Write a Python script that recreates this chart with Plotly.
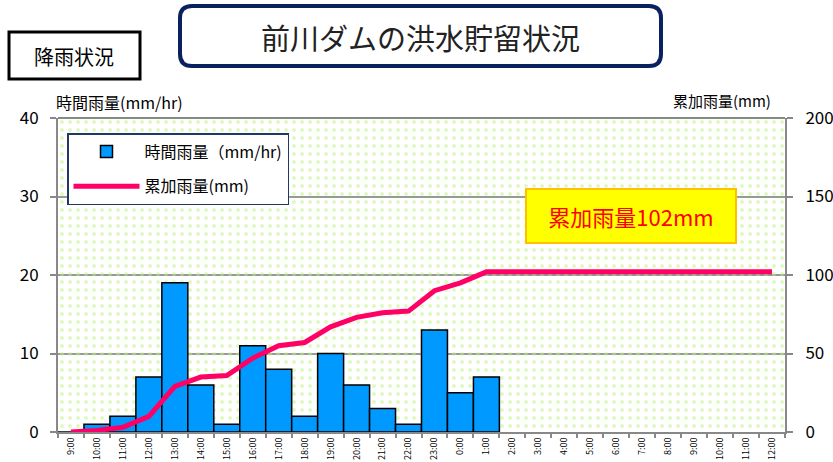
import plotly.graph_objects as go

# ---- data ----
hours = ["9:00", "10:00", "11:00", "12:00", "13:00", "14:00", "15:00", "16:00",
         "17:00", "18:00", "19:00", "20:00", "21:00", "22:00", "23:00", "0:00",
         "1:00", "2:00", "3:00", "4:00", "5:00", "6:00", "7:00", "8:00",
         "9:00", "10:00", "11:00", "12:00"]
hourly_rain = [0, 1, 2, 7, 19, 6, 1, 11, 8, 2, 10, 6, 3, 1, 13, 5, 7,
               0, 0, 0, 0, 0, 0, 0, 0, 0, 0, 0]
cumulative_rain = [0, 1, 3, 10, 29, 35, 36, 47, 55, 57, 67, 73, 76, 77, 90, 95, 102,
                   102, 102, 102, 102, 102, 102, 102, 102, 102, 102, 102]
left_ticks = [0, 10, 20, 30, 40]
right_ticks = [0, 50, 100, 150, 200]

FONT = "Noto Sans CJK JP"
Y_MAX = 40
Y2_MAX = 200
n = len(hours)
idx = list(range(n))
hourly_bars = hourly_rain[:17]

L, R, T, B = 58, 785, 118, 432
def px(x):
    return (x - L) / (R - L)
def py(y):
    return (B - y) / (B - T)

fig = go.Figure()

# dotted background (decorative)
fig.add_trace(go.Bar(
    x=[(n - 1) / 2], y=[Y_MAX], width=[n], base=[0],
    marker=dict(color="rgba(0,0,0,0)", line=dict(width=0),
                pattern=dict(shape=".", size=8, solidity=0.2,
                             fgcolor="#bff383", bgcolor="rgba(0,0,0,0)")),
    showlegend=False, hoverinfo="skip"))

fig.add_trace(go.Bar(
    x=idx[:len(hourly_bars)], y=hourly_bars, width=1,
    name="時間雨量（mm/hr)", legendgroup="a",
    marker=dict(color="#0099ff", line=dict(color="#000000", width=1.5))))

fig.add_trace(go.Scatter(
    x=idx, y=cumulative_rain, yaxis="y2", mode="lines",
    name="累加雨量(mm)", legendgroup="b",
    line=dict(color="#ff0066", width=5)))

fig.update_layout(
    width=833, height=462,
    margin=dict(l=L, r=833 - R, t=T, b=462 - B),
    paper_bgcolor="white", plot_bgcolor="white",
    barmode="overlay",
    font=dict(family=FONT, color="#000000"),
    xaxis=dict(range=[-0.5, n - 0.5], tickmode="array", tickvals=idx, ticktext=hours,
               tickangle=-90, tickfont=dict(size=9, family=FONT), ticks="",
               showline=True, linecolor="#888888", linewidth=2, showgrid=False,
               minor=dict(tickmode="linear", tick0=-0.5, dtick=1, ticks="outside",
                          ticklen=4, tickcolor="#888888", tickwidth=1.5),
               automargin=False, fixedrange=True),
    yaxis=dict(range=[0, Y_MAX], tickvals=left_ticks, tickfont=dict(size=17, family=FONT),
               showline=True, linecolor="#888888", linewidth=2,
               showgrid=True, gridcolor="#999999", gridwidth=1.5,
               ticks="outside", ticklen=6, tickcolor="#888888", tickwidth=1.5,
               ticklabelstandoff=8, zeroline=False, automargin=False, fixedrange=True),
    yaxis2=dict(range=[0, Y2_MAX], tickvals=right_ticks, overlaying="y", side="right",
                tickfont=dict(size=17, family=FONT),
                showline=True, linecolor="#888888", linewidth=2, showgrid=False,
                ticks="outside", ticklen=6, tickcolor="#888888", tickwidth=1.5,
                ticklabelstandoff=9, zeroline=False, automargin=False, fixedrange=True),
    legend=dict(x=px(67), y=py(133), xanchor="left", yanchor="top",
                bgcolor="white", bordercolor="#1f3864", borderwidth=1.5,
                font=dict(size=16, family=FONT), traceorder="grouped",
                itemwidth=66, tracegroupgap=11),
    showlegend=True,
)

shapes = [
    dict(type="line", xref="paper", yref="paper", x0=0, x1=1, y0=1, y1=1,
         line=dict(color="#888888", width=2)),
    # "降雨状況" box
    dict(type="rect", xref="paper", yref="paper",
         x0=px(9), x1=px(140), y0=py(79), y1=py(32),
         line=dict(color="#000000", width=3), fillcolor="white"),
]
fig.update_layout(shapes=shapes)

# rounded title box via path
x0, x1, y0, y1, r = 180, 661, 6, 66, 12
path = (f"M {px(x0 + r)},{py(y0)} L {px(x1 - r)},{py(y0)} "
        f"Q {px(x1)},{py(y0)} {px(x1)},{py(y0 + r)} L {px(x1)},{py(y1 - r)} "
        f"Q {px(x1)},{py(y1)} {px(x1 - r)},{py(y1)} L {px(x0 + r)},{py(y1)} "
        f"Q {px(x0)},{py(y1)} {px(x0)},{py(y1 - r)} L {px(x0)},{py(y0 + r)} "
        f"Q {px(x0)},{py(y0)} {px(x0 + r)},{py(y0)} Z")
fig.add_shape(type="path", xref="paper", yref="paper", path=path,
              line=dict(color="#0a2160", width=4), fillcolor="white")

annotations = [
    dict(text="前川ダムの洪水貯留状況", xref="paper", yref="paper", x=px(420), y=py(37),
         xanchor="center", yanchor="middle",
         showarrow=False, font=dict(size=29, family=FONT, color="#222222")),
    dict(text="降雨状況", xref="paper", yref="paper", x=px(74), y=py(56),
         xanchor="center", yanchor="middle",
         showarrow=False, font=dict(size=20, family=FONT, color="#000000")),
    dict(text="時間雨量(mm/hr)", xref="paper", yref="paper", x=px(54), y=py(102),
         xanchor="left", yanchor="middle", showarrow=False, font=dict(size=16, family=FONT)),
    dict(text="累加雨量(mm)", xref="paper", yref="paper", x=px(773), y=py(100),
         xanchor="right", yanchor="middle", showarrow=False, font=dict(size=15, family=FONT)),
    dict(text="累加雨量102mm", xref="paper", yref="paper", x=px(631), y=py(216),
         xanchor="center", yanchor="middle",
         showarrow=False, font=dict(size=22, family=FONT, color="#ff0000"),
         bgcolor="#ffff00", bordercolor="#ffc000", borderwidth=2,
         width=206, height=50),
]
fig.update_layout(annotations=annotations)

fig.write_html("out.html", config={"displayModeBar": False},
               post_script="document.body.style.margin='0';")
